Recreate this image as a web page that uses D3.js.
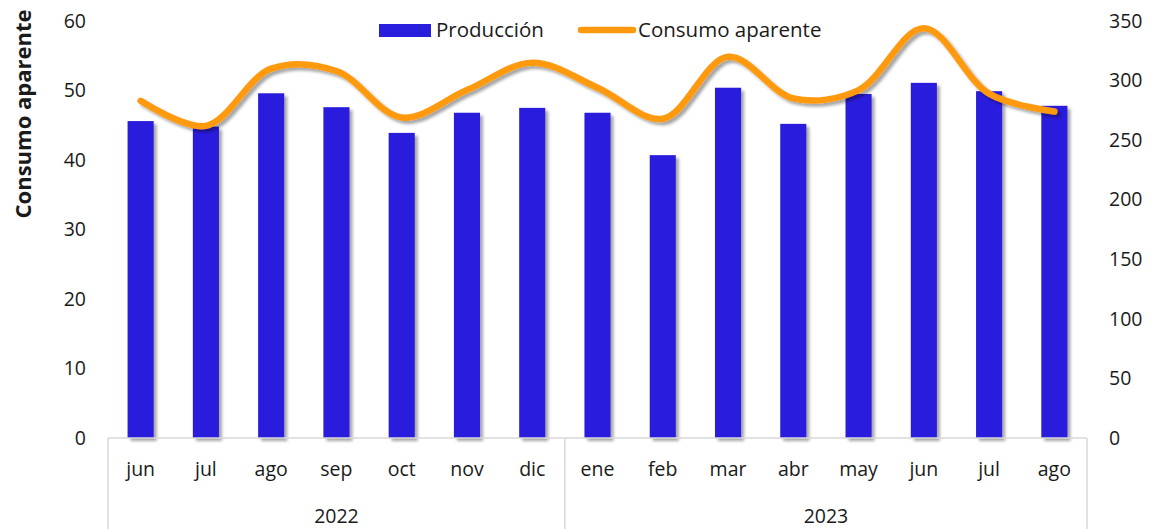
<!DOCTYPE html>
<html>
<head>
<meta charset="utf-8">
<script src="https://cdn.jsdelivr.net/npm/d3@7"></script>
<style>
  body { margin: 0; background: #fff; }
  svg { font-family: "Open Sans", "Liberation Sans", sans-serif; }
</style>
</head>
<body>
<div id="chart"></div>
<script>
const months = ["jun", "jul", "ago", "sep", "oct", "nov", "dic", "ene", "feb", "mar", "abr", "may", "jun", "jul", "ago"];
const years = [{ label: "2022", count: 7 }, { label: "2023", count: 8 }];
const produccion = [45.6, 44.8, 49.6, 47.6, 43.9, 46.8, 47.5, 46.8, 40.7, 50.4, 45.2, 49.5, 51.1, 49.9, 47.8];
const consumo = [283, 262, 310, 308, 269, 292, 315, 294, 268, 320, 285, 292, 344, 289, 274];
const leftTicks = [0, 10, 20, 30, 40, 50, 60];
const rightTicks = [0, 50, 100, 150, 200, 250, 300, 350];

const W = 1153, H = 529;
const plotLeft = 108, plotRight = 1087, plotTop = 21, base = 438;

const svg = d3.select("#chart").append("svg")
  .attr("width", W)
  .attr("height", H);

const defs = svg.append("defs");
defs.append("filter").attr("id", "shadow")
  .attr("x", "-20%").attr("y", "-20%").attr("width", "150%").attr("height", "150%")
  .append("feDropShadow")
  .attr("dx", 3).attr("dy", 3).attr("stdDeviation", 1.8)
  .attr("flood-color", "#000").attr("flood-opacity", 0.35);

const keys = months.map((m, i) => i);
const x = d3.scaleBand().domain(keys).range([plotLeft, plotRight]).paddingInner(0.6).paddingOuter(0.3);
const xc = i => x(i) + x.bandwidth() / 2;
const yL = d3.scaleLinear().domain([0, 60]).range([base, plotTop]);
const yR = d3.scaleLinear().domain([0, 350]).range([base, plotTop]);

// bars
svg.append("g")
  .selectAll("rect")
  .data(produccion)
  .enter().append("rect")
  .attr("x", (d, i) => x(i))
  .attr("y", d => yL(d))
  .attr("width", x.bandwidth())
  .attr("height", d => base - yL(d))
  .attr("fill", "#2A1EDD")
  .attr("filter", "url(#shadow)");

// line
const line = d3.line()
  .x((d, i) => xc(i))
  .y(d => yR(d))
  .curve(d3.curveCatmullRom.alpha(0.5));

svg.append("path")
  .datum(consumo)
  .attr("fill", "none")
  .attr("stroke", "#FF990F")
  .attr("stroke-width", 6.5)
  .attr("stroke-linecap", "round")
  .attr("filter", "url(#shadow)")
  .attr("d", line);

// axis box lines
const axisColor = "#d9d9d9";
svg.append("line")
  .attr("x1", plotLeft).attr("x2", plotRight)
  .attr("y1", base).attr("y2", base)
  .attr("stroke", axisColor).attr("stroke-width", 1.5);

let acc = 0;
const bounds = [0];
years.forEach(y => { acc += y.count; bounds.push(acc); });
const step = (plotRight - plotLeft) / months.length;
svg.append("g").selectAll("line")
  .data(bounds)
  .enter().append("line")
  .attr("x1", d => plotLeft + d * step).attr("x2", d => plotLeft + d * step)
  .attr("y1", base).attr("y2", H)
  .attr("stroke", axisColor).attr("stroke-width", 1.5);

// month labels
svg.append("g").selectAll("text")
  .data(months)
  .enter().append("text")
  .attr("x", (d, i) => xc(i))
  .attr("y", 476)
  .attr("text-anchor", "middle")
  .attr("font-size", 19.5)
  .attr("fill", "#1a1a1a")
  .text(d => d);

// year labels
svg.append("g").selectAll("text")
  .data(years)
  .enter().append("text")
  .attr("x", (d, i) => plotLeft + (bounds[i] + d.count / 2) * step)
  .attr("y", 523)
  .attr("text-anchor", "middle")
  .attr("font-size", 19.5)
  .attr("fill", "#1a1a1a")
  .text(d => d.label);

// left axis
const axL = svg.append("g")
  .attr("transform", `translate(${plotLeft},0)`)
  .call(d3.axisLeft(yL).tickValues(leftTicks).tickSize(0).tickPadding(22));
axL.select(".domain").remove();
axL.selectAll("text").attr("font-size", 19.5).attr("fill", "#1a1a1a")
  .attr("font-family", "'Open Sans', sans-serif");

// right axis
const axR = svg.append("g")
  .attr("transform", `translate(${plotRight},0)`)
  .call(d3.axisRight(yR).tickValues(rightTicks).tickSize(0).tickPadding(22));
axR.select(".domain").remove();
axR.selectAll("text").attr("font-size", 19.5).attr("fill", "#1a1a1a")
  .attr("font-family", "'Open Sans', sans-serif");

// y axis title
svg.append("text")
  .attr("transform", "translate(31,114) rotate(-90)")
  .attr("text-anchor", "middle")
  .attr("font-size", 22)
  .attr("font-weight", "bold")
  .attr("fill", "#1a1a1a")
  .text("Consumo aparente");

// legend
const lg = svg.append("g");
lg.append("rect")
  .attr("x", 379).attr("y", 24).attr("width", 52).attr("height", 13)
  .attr("fill", "#2A1EDD");
lg.append("text")
  .attr("x", 436).attr("y", 37)
  .attr("font-size", 20.5).attr("fill", "#1a1a1a")
  .text("Producción");
lg.append("line")
  .attr("x1", 581).attr("x2", 633).attr("y1", 30).attr("y2", 30)
  .attr("stroke", "#FF990F").attr("stroke-width", 6.5).attr("stroke-linecap", "round");
lg.append("text")
  .attr("x", 638).attr("y", 37)
  .attr("font-size", 20.5).attr("fill", "#1a1a1a")
  .text("Consumo aparente");
</script>
</body>
</html>
